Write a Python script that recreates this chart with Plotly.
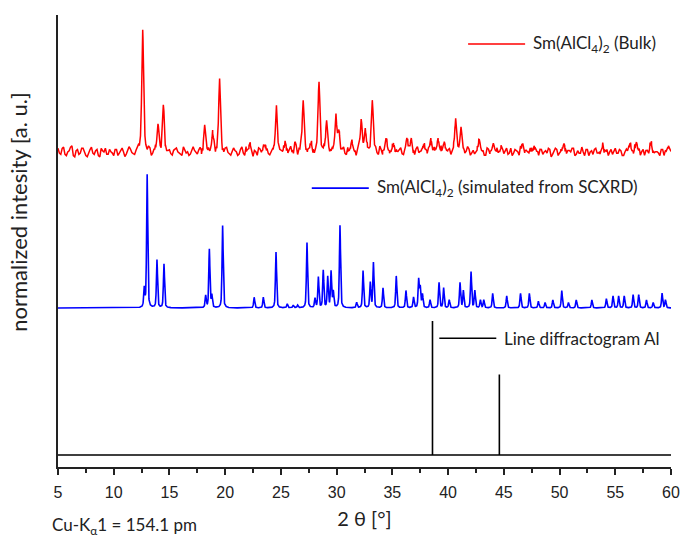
import numpy as np
import plotly.graph_objects as go

# ---------------- data ----------------
# Measured bulk pattern: peak positions (2theta, deg) and relative intensities (%)
red_peak_pos = [12.6, 13.97, 14.45, 18.16, 18.88, 19.5, 22.2, 23.5, 24.6, 25.4, 26.3,
                27.0, 27.7, 28.42, 29.1, 29.94, 30.2, 31.35, 32.2, 32.57, 33.2, 34.43,
                35.1, 36.3, 36.7, 37.8, 38.45, 39.1, 39.66, 40.68, 41.16, 42.8, 44.06,
                44.8, 46.7, 47.74, 50.4, 53.9, 56.3, 56.9, 58.2, 59.77]
red_peak_int = [100, 22, 38, 22, 14, 59, 7, 7, 38, 7, 7,
                42, 6, 57, 25, 30, 16, 8, 26, 18, 42, 11,
                7, 11, 11, 6, 11, 11, 8, 27, 20, 10, 7,
                4, 7, 5, 7, 5, 7, 8, 7, 5]
# Measured background noise, one value every 0.25 deg from 5 to 60 (intensity %)
red_noise = [3, -2, 4, -3, 1, 5, -4, 2, -1, 3, -3, 0, 4, -2, 2, -4, 1, 3, -2, 0,
             -3, 2, -1, 3, -4, 1, 2, -2, 0, 3, -3, 1, -1, 2, -2, 3, 0, -3, 2, -1,
             1, -3, 2, 0, -2, 4, -1, -3, 2, 1, -2, 3, -4, 0, 2, -1, 3, -2, 1, -3,
             2, -1, -3, 3, 0, -2, 4, -3, 1, 2, -4, 0, 3, -1, -2, 2, -3, 1, 4, -2,
             0, 3, -3, 1, -1, 2, -4, 3, 0, -2, 1, 3, -3, 2, -1, 0, -2, 4, -1, 1,
             -3, 2, 1, -2, 3, -1, 0, -4, 2, 1, -1, 3, -2, 0, 2, -3, 1, -1, 3, -2,
             2, -2, 0, 3, -3, 1, 2, -1, -3, 4, 0, -2, 1, 2, -4, 3, -1, 0, 2, -2,
             1, -3, 3, -1, 0, 2, -2, 4, -3, 1, -1, 2, 0, -3, 3, -2, 1, 0, -1, 2,
             -2, 3, -1, -3, 2, 0, 4, -2, 1, -1, 3, -3, 0, 2, -2, 1, 3, -4, 0, 2,
             -1, 2, -3, 1, 0, 3, -2, -1, 4, -3, 2, 0, -2, 3, -1, 1, -3, 2, 0, -2,
             3, -1, 1, -3, 2, -2, 0, 4, -1, -3, 2, 1, -2, 3, -1, 0, -3, 2, 1, -2,
             0]
# Background noise at the mid points (5.125, 5.375, ... 59.875 deg)
red_noise_mid = [-1, 3, -2, 0, 4, -3, 1, -2, 3, 0, -4, 2, -1, 1, -3, 3, 0, -2, 2, -1,
                 2, -3, 1, 0, -2, 4, -1, -3, 2, 1, -2, 0, 3, -4, 1, 2, -1, 3, -2, 0,
                 -2, 1, 3, -1, -3, 2, 0, -2, 4, -1, 1, -3, 2, 0, -1, 3, -3, 1, 2, -2,
                 3, -2, 0, 1, -3, 2, -1, 4, -2, 0, 1, -3, 2, -1, 3, -2, 0, 2, -3, 1,
                 -1, 2, -2, 4, -3, 0, 1, -1, 3, -2, 2, -3, 0, 1, -2, 3, -1, -2, 2, 0,
                 1, -2, 3, -3, 0, 2, -1, 1, -3, 3, -2, 0, 2, -1, -2, 4, -3, 1, 0, -1,
                 -3, 1, 2, -2, 0, 3, -1, -3, 2, -1, 1, 3, -2, 0, -1, 2, -3, 4, -1, 0,
                 2, -1, -2, 3, -3, 1, 0, 2, -1, -2, 3, -1, 1, -3, 2, 0, -2, 3, -1, 1,
                 0, -2, 3, -1, 1, -3, 2, -2, 0, 3, -1, 1, -3, 2, 0, -1, 2, -2, 3, -3,
                 2, 0, -2, 1, 3, -3, 1, -1, 0, 2, -3, 1, 2, -1, -2, 3, 0, -3, 2, 1,
                 -1, 2, -3, 0, 1, 3, -2, -1, 2, 0, -3, 1, 3, -2, 0, -1, 2, -3, 1, 0]

# Simulated pattern (from SCXRD): peak positions and relative intensities (%)
blue_peak_pos = [12.74, 13.0, 13.88, 14.51, 18.25, 18.58, 18.8, 19.77, 22.6, 23.42,
                 24.56, 25.57, 26.1, 26.5, 27.34, 28.06, 28.36, 28.8, 29.2, 29.5,
                 29.7, 30.3, 31.8, 32.37, 33.02, 33.3, 34.16, 35.35, 36.22, 36.9,
                 37.36, 37.5, 37.7, 38.38, 39.19, 39.6, 40.1, 41.07, 41.37, 42.06,
                 42.4, 42.9, 43.2, 44.0, 45.26, 46.5, 47.29, 48.1, 48.7, 49.4,
                 50.2, 50.8, 51.5, 52.9, 54.2, 54.8, 55.3, 55.8, 56.6, 57.1,
                 57.8, 58.4, 59.2, 59.5]
blue_peak_int = [14, 100, 36, 33, 9, 44, 9, 62, 8, 8,
                 42, 3, 2, 2, 49, 7, 23, 28, 23, 27,
                 12, 62, 4, 28, 19, 34, 15, 24, 13, 8,
                 21, 15, 10, 6, 19, 15, 6, 19, 13, 27,
                 13, 6, 6, 11, 9, 11, 11, 5, 4, 6,
                 13, 4, 6, 6, 7, 9, 9, 9, 10, 10,
                 6, 4, 11, 6]

# Line diffractogram of Al
al_peak_pos = [38.6, 44.6]
al_peak_int = [100, 60]

theta_range = [5, 60]
x_ticks = [5, 10, 15, 20, 25, 30, 35, 40, 45, 50, 55, 60]

# ---------------- rendering helpers (style / stacking) ----------------
RED_OFF, RED_SC = 315, 1.22
BLUE_OFF, BLUE_SC = 159, 1.33
AL_OFF, AL_SC = 12, 1.34


def pv(x, pos, inten, fwhm, eta=0.5):
    x = np.asarray(x, dtype=float)[:, None]
    p = np.asarray(pos, dtype=float)[None, :]
    h = np.asarray(inten, dtype=float)[None, :]
    hw = fwhm / 2.0
    d = x - p
    lor = hw ** 2 / (d ** 2 + hw ** 2)
    gau = np.exp(-np.log(2) * (d / hw) ** 2)
    return (h * (eta * lor + (1 - eta) * gau)).sum(axis=1)


# red: measured noise grid plus samples around each peak
noise_x = np.linspace(theta_range[0], theta_range[1], len(red_noise))
mid_x = noise_x[:-1] + 0.125
noise_map = {round(v, 4): n for v, n in zip(noise_x, red_noise)}
noise_map.update({round(v, 4): n for v, n in zip(mid_x, red_noise_mid)})
offs = [-0.3, -0.2, -0.12, -0.06, 0.0, 0.06, 0.12, 0.2, 0.3]
extra = [round(p + o, 4) for p in red_peak_pos for o in offs]
red_x = np.array(sorted(set(noise_map.keys()) | set(extra)))
red_x = red_x[(red_x >= theta_range[0]) & (red_x <= theta_range[1])]
red_prof = pv(red_x, red_peak_pos, red_peak_int, 0.2)
red_n = np.array([noise_map.get(round(v, 4), 0) for v in red_x])
red_y = RED_OFF + RED_SC * (red_prof + red_n)

blue_x = np.arange(theta_range[0], theta_range[1] + 1e-9, 0.01)
blue_y = BLUE_OFF + BLUE_SC * pv(blue_x, blue_peak_pos, blue_peak_int, 0.12)

al_x, al_y = [theta_range[0]], [0]
for p, i in zip(al_peak_pos, al_peak_int):
    al_x += [p, p, p]
    al_y += [0, i, 0]
al_x.append(theta_range[1])
al_y.append(0)
al_y = [AL_OFF + AL_SC * v for v in al_y]

fig = go.Figure()
fig.add_trace(go.Scatter(x=red_x, y=red_y, mode="lines",
                         line=dict(color="#ff0000", width=1.5), showlegend=False))
fig.add_trace(go.Scatter(x=blue_x, y=blue_y, mode="lines",
                         line=dict(color="#0000ff", width=1.6), showlegend=False))
fig.add_trace(go.Scatter(x=al_x, y=al_y, mode="lines",
                         line=dict(color="#000000", width=1.6), showlegend=False))

TXT = "Lato, Open Sans, sans-serif"

# legend-like keys
keys = [
    (0.669, 0.762, 0.936, "#ff0000", "Sm(AlCl<sub>4</sub>)<sub>2</sub> (Bulk)", 0.772),
    (0.414, 0.507, 0.617, "#0000ff", "Sm(AlCl<sub>4</sub>)<sub>2</sub> (simulated from SCXRD)", 0.517),
    (0.622, 0.715, 0.285, "#000000", "Line diffractogram Al", 0.724),
]
for x0, x1, yy, col, txt, tx in keys:
    fig.add_shape(type="line", xref="paper", yref="paper", x0=x0, x1=x1, y0=yy, y1=yy,
                  line=dict(color=col, width=1.6))
    fig.add_annotation(xref="paper", yref="paper", x=tx, y=yy, text=txt, showarrow=False,
                       xanchor="left", yanchor="middle",
                       font=dict(family=TXT, size=17, color="#222"))

fig.add_annotation(xref="paper", yref="paper", x=-0.013, y=-0.13,
                   text="Cu-K<sub>α</sub>1 = 154.1 pm", showarrow=False,
                   xanchor="left", yanchor="middle",
                   font=dict(family=TXT, size=17, color="#222"))

# y-axis title (placed as in the reference, slightly above the axis centre)
fig.add_annotation(xref="paper", yref="paper", x=-0.065, y=0.565,
                   text="normalized intesity [a. u.]", showarrow=False, textangle=-90,
                   xanchor="center", yanchor="middle",
                   font=dict(family=TXT, size=22, color="#222"))

fig.update_layout(
    width=683, height=540,
    margin=dict(l=58, r=12, t=15, b=73),
    paper_bgcolor="white", plot_bgcolor="white",
    xaxis=dict(range=theta_range, tickvals=x_ticks, ticks="outside", ticklen=6,
               tickwidth=1.5, tickcolor="#222", showline=True, linecolor="#222",
               linewidth=1.8, showgrid=False, zeroline=False, automargin=False,
               ticklabelstandoff=4,
               tickfont=dict(family="Liberation Sans, Arial, sans-serif", size=16, color="#222"),
               minor=dict(dtick=2.5, tick0=5, ticks="outside", ticklen=4,
                          tickwidth=1.5, tickcolor="#222", showgrid=False),
               title=dict(text="2 θ [°]", standoff=12,
                          font=dict(family=TXT, size=20, color="#222"))),
    yaxis=dict(range=[0, 452], showticklabels=False, ticks="", showline=True,
               linecolor="#222", linewidth=1.8, showgrid=False, zeroline=False,
               automargin=False),
)

fig.write_html("out.html", config={"displayModeBar": False},
               post_script="document.body.style.margin='0';")
